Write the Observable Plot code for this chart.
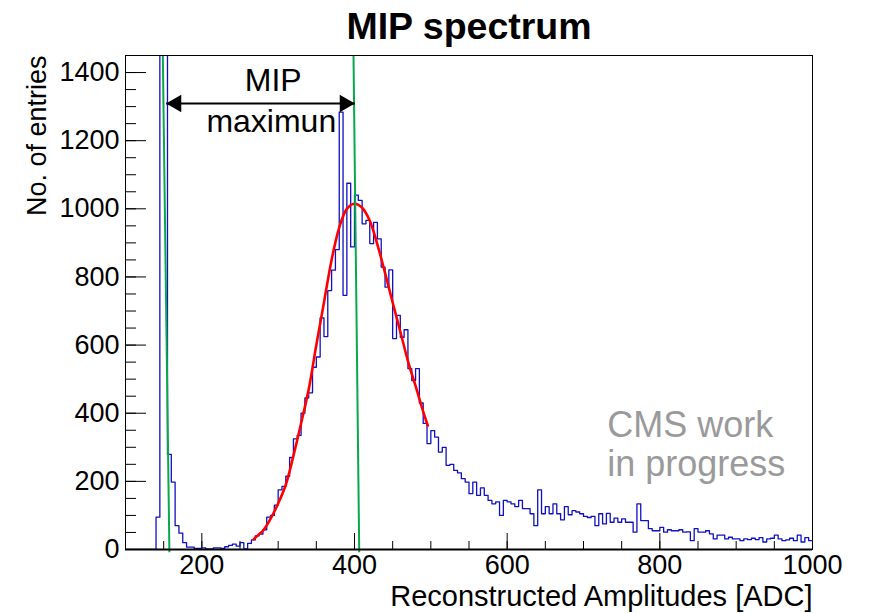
<!DOCTYPE html>
<html>
<head>
<meta charset="utf-8">
<script src="https://cdn.jsdelivr.net/npm/d3@7"></script>
<script src="https://cdn.jsdelivr.net/npm/@observablehq/plot@0.6"></script>
<style>
  html, body { margin: 0; padding: 0; background: #fff; }
  #chart svg { display: block; }
</style>
</head>
<body>
<div id="chart"></div>
<script>
// ---------- data ----------
const titleText = "MIP spectrum";
const xLabelText = "Reconstructed Amplitudes [ADC]";
const yLabelText = "No. of entries";

// histogram: bins of width 5 ADC from 100 to 1000 (left edges)
const binLeft = d3.range(100, 1000, 5);
const binRightEnd = 1000;
const counts = [
  0, 0, 0, 0, 0, 0, 0, 0, 95, 4000,
  3000, 279, 198, 70, 48, 20, 7, 7, 3, 3,
  5, 2, 2, 5, 5, 3, 8, 12, 16, 10,
  20, 2, 18, 28, 40, 45, 58, 95, 100, 130,
  175, 185, 215, 270, 325, 335, 400, 445, 460, 535,
  565, 680, 625, 760, 820, 880, 1284, 746, 1075, 888,
  1040, 1025, 956, 966, 898, 960, 912, 829, 770, 821,
  619, 687, 623, 645, 531, 496, 531, 430, 370, 311,
  349, 330, 286, 300, 247, 250, 232, 225, 208, 198,
  164, 198, 159, 181, 159, 144, 134, 140, 100, 144,
  140, 134, 126, 144, 120, 120, 105, 70, 175, 105,
  126, 105, 134, 105, 87, 126, 102, 114, 110, 105,
  97, 94, 97, 70, 105, 75, 106, 80, 92, 80,
  90, 80, 80, 51, 134, 85, 85, 61, 55, 55,
  65, 51, 58, 55, 55, 58, 51, 52, 26, 61,
  51, 51, 55, 46, 31, 42, 42, 31, 36, 31,
  31, 26, 31, 29, 33, 29, 35, 22, 31, 33,
  42, 31, 26, 28, 33, 26, 42, 22, 35, 26
];

// fit curve
const fitX = [268, 275, 280, 290, 300, 310, 320, 330, 340, 350, 360, 370, 380, 390, 400, 410, 420, 430, 440, 450, 460, 470, 480, 490, 496];
const fitY = [30, 45, 55, 90, 135, 190, 275, 370, 470, 600, 725, 850, 945, 1000, 1015, 1003, 965, 895, 812, 725, 640, 553, 480, 405, 364];

// green marker lines
const greenTopX = [148.9, 398.7];
const greenBottomX = [157.5, 406.2];
const greenTopY = [1450, 1450];
const greenBottomY = [-8, -8];

// arrow annotation
const arrowTipsX = [153.2, 400.5];
const arrowY = [1309, 1309];
const annotLines = ["MIP", "maximun"];
const annotX = [293.5, 291];
const annotY = [1377, 1255];

// CMS label
const cmsLines = ["CMS work", "in progress"];
const cmsX = [731, 731];
const cmsY = [364, 250];

// ticks
const xMajor = [200, 400, 600, 800, 1000];
const xMinor = d3.range(100, 1001, 50);
const yMajor = [0, 200, 400, 600, 800, 1000, 1200, 1400];
const yMinor = d3.range(0, 1451, 50);

// ---------- build ----------
const histPts = binLeft.map((x, i) => ({x, y: counts[i]}));
histPts.unshift({x: 100, y: 0});
histPts.push({x: binRightEnd, y: counts[counts.length - 1]});
const fitPts = fitX.map((x, i) => ({x, y: fitY[i]}));
const greenLines = greenTopX.map((x, i) => ({x1: x, y1: greenTopY[i], x2: greenBottomX[i], y2: greenBottomY[i]}));
const annot = annotLines.map((t, i) => ({t, x: annotX[i], y: annotY[i]}));
const cms = cmsLines.map((t, i) => ({t, x: cmsX[i], y: cmsY[i]}));

const W = 869, H = 613;
const mL = 125, mR = 57, mT = 55, mB = 64;
const frameW = W - mL - mR, frameH = H - mT - mB;
const font = "'Liberation Sans', Arial, Helvetica, sans-serif";

const chart = Plot.plot({
  width: W, height: H,
  marginLeft: mL, marginRight: mR, marginTop: mT, marginBottom: mB,
  x: {domain: [100, 1000]},
  y: {domain: [0, 1450]},
  style: {fontFamily: font, background: "white", color: "black"},
  marks: [
    // inner ticks (ROOT style)
    Plot.tickX(xMajor, {x: d => d, stroke: "black", strokeWidth: 1, insetTop: frameH - 16}),
    Plot.tickX(xMinor, {x: d => d, stroke: "black", strokeWidth: 1, insetTop: frameH - 8}),
    Plot.tickY(yMajor, {y: d => d, stroke: "black", strokeWidth: 1, insetRight: frameW - 21}),
    Plot.tickY(yMinor, {y: d => d, stroke: "black", strokeWidth: 1, insetRight: frameW - 11}),
    // histogram
    Plot.line(histPts, {x: "x", y: "y", curve: "step-after", stroke: "#1010c0", strokeWidth: 1.3, clip: true}),
    // fit
    Plot.line(fitPts, {x: "x", y: "y", curve: "catmull-rom", stroke: "#ff0000", strokeWidth: 2.6}),
    // green lines
    Plot.link(greenLines, {x1: "x1", y1: "y1", x2: "x2", y2: "y2", stroke: "#0aa84c", strokeWidth: 2}),
    // frame and axis line
    Plot.frame({stroke: "black", strokeWidth: 1}),
    Plot.ruleY([0], {stroke: "black", strokeWidth: 2}),
    // arrow
    Plot.link([0], {x1: () => arrowTipsX[0], x2: () => arrowTipsX[1], y1: () => arrowY[0], y2: () => arrowY[1], stroke: "black", strokeWidth: 2}),
    Plot.dot([0], {x: () => arrowTipsX[0], y: () => arrowY[0], symbol: "triangle", r: 6.5, rotate: -90, fill: "black", stroke: "none", dx: 10.1}),
    Plot.dot([0], {x: () => arrowTipsX[1], y: () => arrowY[1], symbol: "triangle", r: 6.5, rotate: 90, fill: "black", stroke: "none", dx: -10.1}),
    Plot.text(annot, {x: "x", y: "y", text: "t", fontSize: 32, fill: "black", textAnchor: "middle"}),
    // CMS label
    Plot.text(cms, {x: "x", y: "y", text: "t", fontSize: 36, fill: "#9a9a9a", textAnchor: "start"}),
    // tick labels
    Plot.axisX({ticks: xMajor, tickSize: 0, tickPadding: 5, fontSize: 27, label: null, tickFormat: d => String(d)}),
    Plot.axisY({ticks: yMajor, tickSize: 0, tickPadding: 6, fontSize: 27, label: null, tickFormat: d => String(d)}),
    // titles
    Plot.text([titleText], {frameAnchor: "top", lineAnchor: "middle", dy: -29, fontSize: 37.5, fontWeight: "bold", fill: "black"}),
    Plot.text([xLabelText], {frameAnchor: "bottom-right", lineAnchor: "middle", textAnchor: "end", dy: 47, fontSize: 29, fill: "black"}),
    Plot.text([yLabelText], {frameAnchor: "top-left", lineAnchor: "middle", textAnchor: "end", rotate: -90, dx: -88, fontSize: 27, fill: "black"})
  ]
});
document.getElementById("chart").appendChild(chart);
</script>
</body>
</html>
